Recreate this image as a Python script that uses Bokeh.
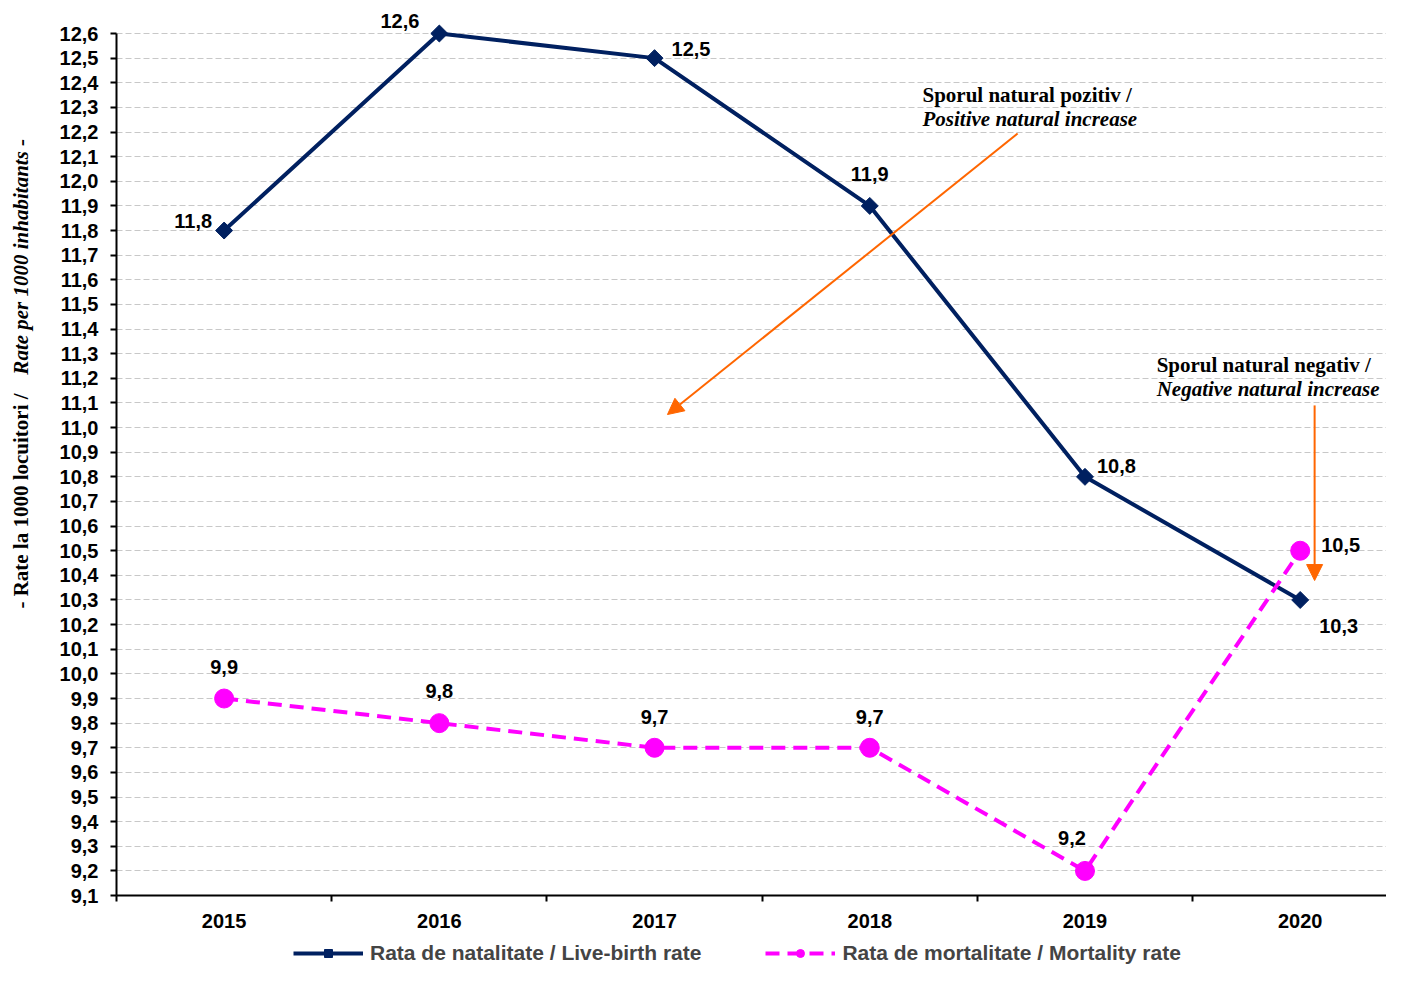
from bokeh.plotting import figure
from bokeh.models import (Range1d, FixedTicker, CustomJSTickFormatter, Legend, LegendItem,
                          Label, LabelSet, Arrow, NormalHead, ColumnDataSource)
from bokeh.embed import file_html
from bokeh.resources import INLINE
from bokeh.core.properties import value
import math

# ---- data ----
years = ["2015", "2016", "2017", "2018", "2019", "2020"]
birth_rate = [11.8, 12.6, 12.5, 11.9, 10.8, 10.3]
mortality_rate = [9.9, 9.8, 9.7, 9.7, 9.2, 10.5]
y_min, y_max, y_step = 9.1, 12.6, 0.1
birth_label = "Rata de natalitate / Live-birth rate"
mort_label = "Rata de mortalitate / Mortality rate"
y_title_ro = "- Rate la 1000 locuitori  /  "
y_title_en = "Rate per 1000 inhabitants -"
ann_pos_ro = "Sporul natural pozitiv /"
ann_pos_en = "Positive natural increase"
ann_neg_ro = "Sporul natural negativ /"
ann_neg_en = "Negative natural increase"

NAVY = "#002060"
MAGENTA = "#FF00FF"
ORANGE = "#FF6600"
SANS = "Liberation Sans"
SERIF = "Liberation Serif"

def fmt(v):
    return f"{v:.1f}".replace(".", ",")

xs = [i + 0.5 for i in range(len(years))]
n_ticks = int(round((y_max - y_min) / y_step)) + 1
y_ticks = [round(y_min + y_step * i, 1) for i in range(n_ticks)]

W, H = 1386, 965
X_END = 5.901
# frame covers the whole canvas; axes are placed at fixed locations inside it
p = figure(width=W, height=H, output_backend="svg", toolbar_location=None,
           x_range=Range1d(-0.539, X_END), y_range=Range1d(8.816, 12.734),
           min_border=0, min_border_left=0, min_border_right=0,
           min_border_top=0, min_border_bottom=0)
p.outline_line_color = None
p.background_fill_color = "white"
p.border_fill_color = "white"

# axes
p.xaxis.fixed_location = y_min
p.xaxis.bounds = (0, X_END)
p.yaxis.fixed_location = 0
p.yaxis.bounds = (y_min, y_max)
p.xaxis.ticker = FixedTicker(ticks=xs, minor_ticks=list(range(len(years) + 1)))
p.xaxis.formatter = CustomJSTickFormatter(args=dict(years=years),
                                          code="return years[Math.round(tick - 0.5)];")
p.xaxis.major_tick_out = 0
p.xaxis.major_tick_in = 0
p.xaxis.minor_tick_out = 6
p.xaxis.minor_tick_in = 0
p.xaxis.minor_tick_line_color = "black"
p.xaxis.minor_tick_line_width = 2
p.xaxis.major_label_standoff = 12
p.yaxis.ticker = FixedTicker(ticks=y_ticks)
p.yaxis.formatter = CustomJSTickFormatter(code="return tick.toFixed(1).replace('.', ',');")
p.yaxis.major_tick_out = 6
p.yaxis.major_tick_in = 0
p.yaxis.minor_tick_out = 0
p.yaxis.minor_tick_in = 0
p.yaxis.major_label_standoff = 12
for ax in (p.xaxis, p.yaxis):
    ax.axis_line_color = "black"
    ax.axis_line_width = 2
    ax.major_tick_line_width = 2
    ax.major_tick_line_color = "black"
    ax.major_label_text_font = SANS
    ax.major_label_text_font_style = "bold"
    ax.major_label_text_font_size = "20px"
    ax.major_label_text_color = "black"

p.xgrid.grid_line_color = None
if hasattr(p.ygrid[0], "cross_bounds"):
    p.ygrid.cross_bounds = (0, X_END)
    p.ygrid.grid_line_color = "#C8C8C8"
    p.ygrid.grid_line_dash = "6 3"
    p.ygrid.grid_line_width = 1
else:
    p.ygrid.grid_line_color = None
    p.segment(x0=[0] * len(y_ticks), x1=[X_END] * len(y_ticks), y0=y_ticks, y1=y_ticks,
              line_color="#C8C8C8", line_dash="6 3", line_width=1, level="underlay")

# series
src_b = ColumnDataSource(dict(x=xs, y=birth_rate))
src_m = ColumnDataSource(dict(x=xs, y=mortality_rate))

lb = p.line("x", "y", source=src_b, line_color=NAVY, line_width=4)
sb = p.scatter("x", "y", source=src_b, marker="square", angle=math.pi / 4, size=12,
               fill_color=NAVY, line_color=NAVY)
lm = p.line("x", "y", source=src_m, line_color=MAGENTA, line_width=4, line_dash="14 8")
sm = p.scatter("x", "y", source=src_m, marker="circle", size=19, fill_color=MAGENTA,
               line_color=MAGENTA)

# data labels (offsets in screen px: dx right, dy down)
def add_labels(xv, yv, dxs, dys, aligns):
    for al in sorted(set(aligns)):
        idx = [i for i, a in enumerate(aligns) if a == al]
        src = ColumnDataSource(dict(x=[xv[i] for i in idx], y=[yv[i] for i in idx],
                                    t=[fmt(yv[i]) for i in idx],
                                    dx=[dxs[i] for i in idx], dy=[-dys[i] for i in idx]))
        p.add_layout(LabelSet(x="x", y="y", text="t", x_offset="dx", y_offset="dy",
                              source=src, text_align=al, text_baseline="middle",
                              text_font=value(SANS), text_font_style="bold",
                              text_font_size="20px", text_color="black"))

add_labels(xs, birth_rate, [-12, -20, 17, 0, 12, 19], [-10, -13, -9, -32, -11, 26],
           ["right", "right", "left", "center", "left", "left"])
add_labels(xs, mortality_rate, [0, 0, 0, 0, -13, 21], [-32, -32, -31, -31, -33, -6],
           ["center", "center", "center", "center", "center", "left"])

# arrows
p.add_layout(Arrow(end=NormalHead(size=16, fill_color=ORANGE, line_color=ORANGE),
                   x_start=4.187, y_start=12.194, x_end=2.560, y_end=11.053,
                   line_color=ORANGE, line_width=2))
p.add_layout(Arrow(end=NormalHead(size=16, fill_color=ORANGE, line_color=ORANGE),
                   x_start=5.567, y_start=11.090, x_end=5.567, y_end=10.379,
                   line_color=ORANGE, line_width=2))

# annotation texts
ann = [
    (3.745, 12.352, ann_pos_ro, "bold"),
    (3.745, 12.251, ann_pos_en, "bold italic"),
    (4.833, 11.256, ann_neg_ro, "bold"),
    (4.833, 11.155, ann_neg_en, "bold italic"),
]
for ax_, ay_, txt, st in ann:
    p.add_layout(Label(x=ax_, y=ay_, text=txt, text_font=SERIF, text_font_style=st,
                       text_font_size="21px", text_baseline="middle", text_align="left",
                       text_color="black"))

# y axis title (two styles)
p.add_layout(Label(x=-0.446, y=10.265, text=y_title_ro,
                   angle=math.pi / 2, text_font=SERIF, text_font_style="bold",
                   text_font_size="21px", text_baseline="middle", text_align="left",
                   text_color="black"))
p.add_layout(Label(x=-0.446, y=11.215, text=y_title_en,
                   angle=math.pi / 2, text_font=SERIF, text_font_style="bold italic",
                   text_font_size="21px", text_baseline="middle", text_align="left",
                   text_color="black"))

legend = Legend(items=[LegendItem(label=birth_label, renderers=[lb, sb]),
                       LegendItem(label=mort_label, renderers=[lm, sm])],
                orientation="horizontal", location=(293, 0),
                glyph_width=70, glyph_height=20, label_standoff=7, spacing=64,
                padding=0, margin=0, border_line_color=None, background_fill_alpha=0,
                label_text_font=SANS, label_text_font_style="bold", label_text_font_size="21px")
p.add_layout(legend)

open("out.html", "w").write(file_html(p, INLINE))
